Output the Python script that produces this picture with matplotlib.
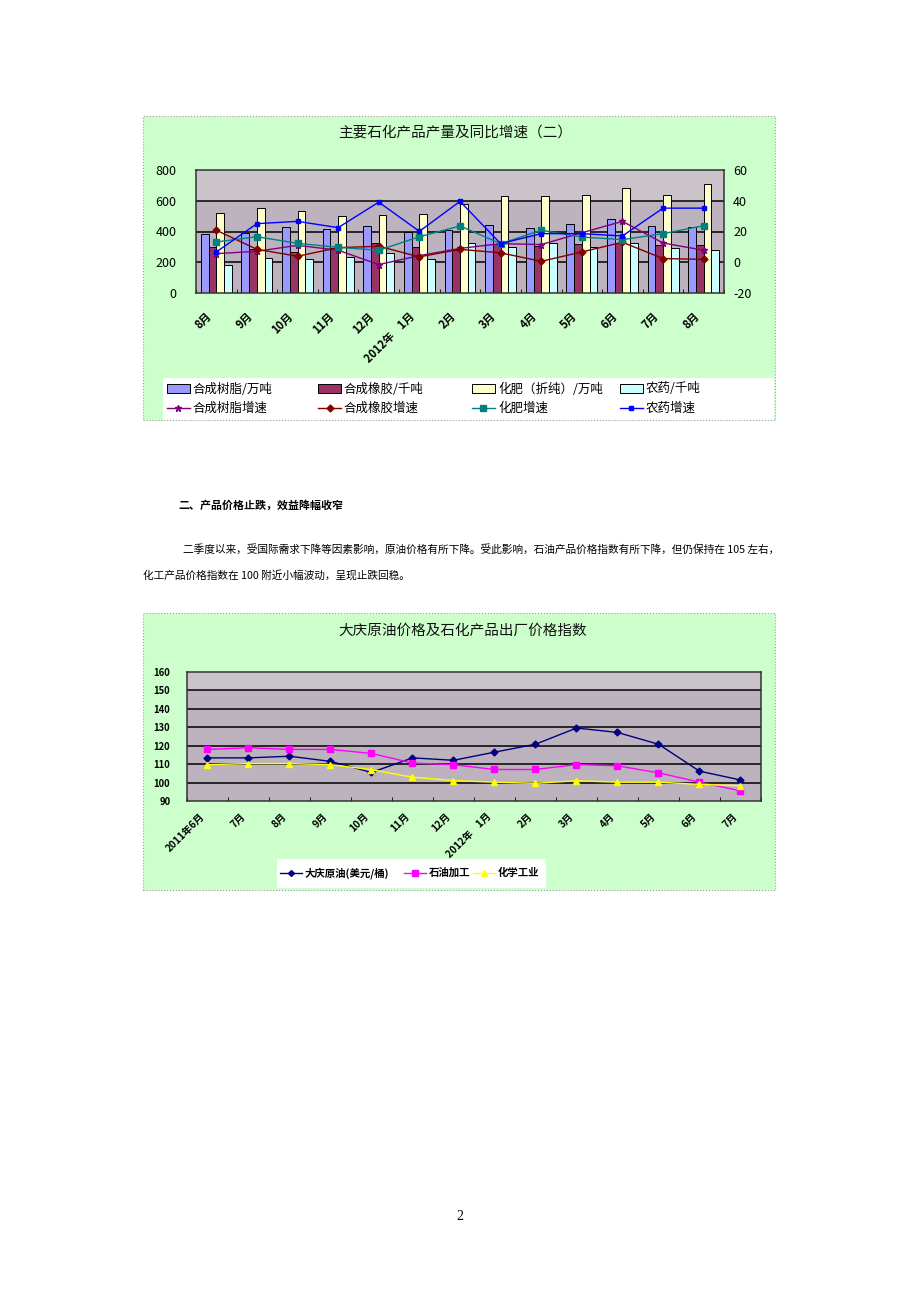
import matplotlib
matplotlib.use('Agg')
import matplotlib.pyplot as plt
from matplotlib.patches import Rectangle
from matplotlib.lines import Line2D
from matplotlib.transforms import ScaledTranslation
import numpy as np

plt.rcParams['font.family'] = ['Noto Sans CJK SC', 'DejaVu Sans']

# ---------------- data: chart 1 ----------------
months1 = ['8月', '9月', '10月', '11月', '12月', '2012年    1月', '2月', '3月',
           '4月', '5月', '6月', '7月', '8月']
resin = [385, 387, 430, 415, 439, 400, 408, 445, 421, 452, 482, 437, 430]
rubber = [301, 284, 267, 295, 325, 301, 280, 316, 305, 316, 327, 310, 310]
fert = [520, 550, 535, 499, 505, 512, 578, 632, 632, 639, 686, 639, 707]
pest = [183, 226, 220, 232, 262, 220, 325, 301, 327, 301, 323, 290, 277]
resin_g = [5.6, 7.1, 11.0, 7.8, -1.5, 4.3, 9.0, 12.1, 11.5, 19.2, 26.6, 12.5, 7.8]
rubber_g = [20.8, 8.4, 3.9, 9.5, 10.4, 3.5, 8.4, 6.1, 0.6, 6.7, 13.0, 2.4, 1.9]
fert_g = [13.2, 16.6, 12.3, 9.7, 7.8, 16.6, 23.6, 12.1, 20.8, 16.4, 14.7, 18.6, 23.8]
pest_g = [6.7, 25.1, 26.6, 22.5, 39.1, 20.1, 39.6, 12.1, 18.6, 18.6, 17.1, 35.2, 35.2]
left_ticks1 = [0, 200, 400, 600, 800]
right_ticks1 = [-20, 0, 20, 40, 60]

# ---------------- data: chart 2 ----------------
months2 = ['2011年6月', '7月', '8月', '9月', '10月', '11月', '12月', '2012年    1月',
           '2月', '3月', '4月', '5月', '6月', '7月']
daqing = [113.4, 113.4, 114.3, 111.5, 105.5, 113.4, 112.1, 116.5, 120.8, 129.6,
          127.2, 120.8, 106.2, 101.4]
refining = [118.0, 118.9, 118.0, 118.0, 115.8, 110.6, 109.7, 107.1, 107.1, 109.8,
            109.1, 105.3, 100.2, 95.5]
chem = [109.7, 110.3, 110.3, 109.7, 107.0, 102.9, 101.1, 100.2, 99.6, 101.0,
        100.2, 100.2, 99.0, 98.3]
ticks2 = [90, 100, 110, 120, 130, 140, 150, 160]

W, H = 920, 1302
fig = plt.figure(figsize=(W / 100, H / 100), dpi=100)
fig.patch.set_facecolor('white')


def fx(x):
    return x / W


def fy(y):
    return 1 - y / H


def rect(x0, y0, x1, y1):
    return [x0 / W, 1 - y1 / H, (x1 - x0) / W, (y1 - y0) / H]


def panel(x0, y0, x1, y1, fc, ec='#A0A0A0', ls=':'):
    fig.patches.append(Rectangle((fx(x0), fy(y1)), (x1 - x0) / W, (y1 - y0) / H,
                                 transform=fig.transFigure, facecolor=fc,
                                 edgecolor=ec, linestyle=ls, lw=0.8, zorder=-5))


PLOT_BG = '#BCB3BE'
PLOT_TOP = '#CAC4CA'

# ================= chart 1 =================
panel(143, 116, 775, 420, '#CCFFCC')
fig.text(fx(455), fy(133), '主要石化产品产量及同比增速（二）', ha='center', va='center',
         fontsize=10.5, color='#111111')

ax1 = fig.add_axes(rect(196, 170, 724, 293))
x1 = np.arange(len(months1))
ax1.set_xlim(-0.5, len(months1) - 0.5)
ax1.set_ylim(0, 800)
ax1.set_facecolor(PLOT_BG)
ax1.axhspan(600, 800, color=PLOT_TOP, zorder=0, lw=0)
for yv in [200, 400, 600]:
    ax1.axhline(yv, color='black', lw=1.1, zorder=1)

bw = 0.19
bar_specs = [(resin, '#9999FF'), (rubber, '#993366'), (fert, '#FFFFCC'), (pest, '#CCFFFF')]
for k, (vals, col) in enumerate(bar_specs):
    ax1.bar(x1 + (k - 1.5) * bw, vals, width=bw, color=col, edgecolor='black',
            linewidth=0.7, zorder=2)

ax1.set_yticks(left_ticks1)
ax1.set_yticklabels([str(t) for t in left_ticks1], fontsize=9)
ax1.tick_params(axis='y', length=0, pad=14)
ax1.set_xticks(x1)
ax1.set_xticklabels([])
ax1.tick_params(axis='x', which='major', length=0)
ax1.set_xticks(np.arange(-0.5, len(months1), 1), minor=True)
ax1.tick_params(axis='x', which='minor', direction='in', length=3, color='black')
for s in ax1.spines.values():
    s.set_color('#333333')
    s.set_linewidth(1.1)

ax1b = ax1.twinx()
ax1b.set_ylim(-20, 60)
ax1b.set_yticks(right_ticks1)
ax1b.set_yticklabels([str(t) for t in right_ticks1], fontsize=9)
ax1b.tick_params(axis='y', length=0, pad=6.5)
for s in ax1b.spines.values():
    s.set_visible(False)

line_specs1 = [
    (resin_g, '#800080', '*', 5),
    (rubber_g, '#800000', 'D', 3.5),
    (fert_g, '#008080', 's', 4.5),
    (pest_g, '#0000FF', 's', 2.5),
]
for vals, col, mk, ms in line_specs1:
    ax1b.plot(x1, vals, color=col, lw=1.0, marker=mk, ms=ms, mfc=col, mec=col, zorder=3)

off1 = ScaledTranslation(-11 / 100, -17 / 100, fig.dpi_scale_trans)
for xi, lab in zip(x1, months1):
    ax1.text(xi, 0, lab, transform=ax1.get_xaxis_transform() + off1, rotation=45,
             rotation_mode='anchor', ha='right', va='top', fontsize=8,
             fontweight='bold', color='black')

# legend 1
panel(163, 378, 773, 419, 'white', ec='white', ls='-')
leg1_cols = [167, 318, 472, 620]
bar_labels = ['合成树脂/万吨', '合成橡胶/千吨', '化肥（折纯）/万吨', '农药/千吨']
line_labels = ['合成树脂增速', '合成橡胶增速', '化肥增速', '农药增速']
for cx, (vals, col), lab in zip(leg1_cols, bar_specs, bar_labels):
    fig.patches.append(Rectangle((fx(cx), fy(393)), 23 / W, 9 / H, transform=fig.transFigure,
                                 facecolor=col, edgecolor='black', lw=0.7, zorder=2))
    fig.text(fx(cx + 26), fy(389), lab, ha='left', va='center', fontsize=9, color='black')
for cx, (vals, col, mk, ms), lab in zip(leg1_cols, line_specs1, line_labels):
    fig.lines.append(Line2D([fx(cx), fx(cx + 23)], [fy(408), fy(408)], transform=fig.transFigure,
                            color=col, lw=1.0))
    fig.lines.append(Line2D([fx(cx + 11.5)], [fy(408)], transform=fig.transFigure,
                            color=col, marker=mk, ms=ms, mfc=col, mec=col))
    fig.text(fx(cx + 26), fy(408), lab, ha='left', va='center', fontsize=9, color='black')

# ================= text =================
fig.text(fx(178), fy(505), '二、产品价格止跌，效益降幅收窄', ha='left', va='center',
         fontsize=7.9, fontweight='bold', color='black')
fig.text(fx(183), fy(549),
         '二季度以来，受国际需求下降等因素影响，原油价格有所下降。受此影响，石油产品价格指数有所下降，但仍保持在 105 左右，',
         ha='left', va='center', fontsize=7.7, color='black')
fig.text(fx(143), fy(575), '化工产品价格指数在 100 附近小幅波动，呈现止跌回稳。',
         ha='left', va='center', fontsize=7.7, color='black')

# ================= chart 2 =================
panel(143, 613, 775, 890, '#CCFFCC')
fig.text(fx(463), fy(631), '大庆原油价格及石化产品出厂价格指数', ha='center', va='center',
         fontsize=10.5, color='#111111')

ax2 = fig.add_axes(rect(187, 672, 761, 801))
x2 = np.arange(len(months2))
ax2.set_xlim(-0.5, len(months2) - 0.5)
ax2.set_ylim(90, 160)
ax2.set_facecolor(PLOT_BG)
ax2.axhspan(150, 160, color=PLOT_TOP, zorder=0, lw=0)
for yv in [100, 110, 120, 130, 140, 150]:
    ax2.axhline(yv, color='black', lw=1.1, zorder=1)

line_specs2 = [
    (daqing, '#000080', 'D', 3.5, '大庆原油(美元/桶)'),
    (refining, '#FF00FF', 's', 4.5, '石油加工'),
    (chem, '#FFFF00', '^', 5, '化学工业'),
]
for vals, col, mk, ms, lab in line_specs2:
    ax2.plot(x2, vals, color=col, lw=1.0, marker=mk, ms=ms, mfc=col, mec=col, zorder=3)

ax2.set_yticks(ticks2)
ax2.set_yticklabels([str(t) for t in ticks2], fontsize=6.8, fontweight='bold')
ax2.tick_params(axis='y', length=0, pad=12)
ax2.set_xticks(x2)
ax2.set_xticklabels([])
ax2.tick_params(axis='x', which='major', length=0)
ax2.set_xticks(np.arange(-0.5, len(months2), 1), minor=True)
ax2.tick_params(axis='x', which='minor', direction='in', length=3, color='black')
for s in ax2.spines.values():
    s.set_color('#333333')
    s.set_linewidth(1.1)

off2 = ScaledTranslation(-8 / 100, -10 / 100, fig.dpi_scale_trans)
for xi, lab in zip(x2, months2):
    ax2.text(xi, 0, lab, transform=ax2.get_xaxis_transform() + off2, rotation=45,
             rotation_mode='anchor', ha='right', va='top', fontsize=7.2,
             fontweight='bold', color='black')

# legend 2
panel(277, 859, 545, 887, 'white', ec='white', ls='-')
leg2_cols = [280, 404, 473]
for cx, (vals, col, mk, ms, lab) in zip(leg2_cols, line_specs2):
    fig.lines.append(Line2D([fx(cx), fx(cx + 22)], [fy(873), fy(873)], transform=fig.transFigure,
                            color=col, lw=1.0))
    fig.lines.append(Line2D([fx(cx + 11)], [fy(873)], transform=fig.transFigure,
                            color=col, marker=mk, ms=ms - 0.5, mfc=col, mec=col))
    fig.text(fx(cx + 25), fy(873), lab, ha='left', va='center', fontsize=7.5,
             fontweight='bold', color='black')

# page number
fig.text(fx(460), fy(1217), '2', ha='center', va='center', fontsize=10,
         family=['Liberation Serif', 'DejaVu Serif'], color='black')

fig.savefig('out.png', dpi=100, facecolor='white')
